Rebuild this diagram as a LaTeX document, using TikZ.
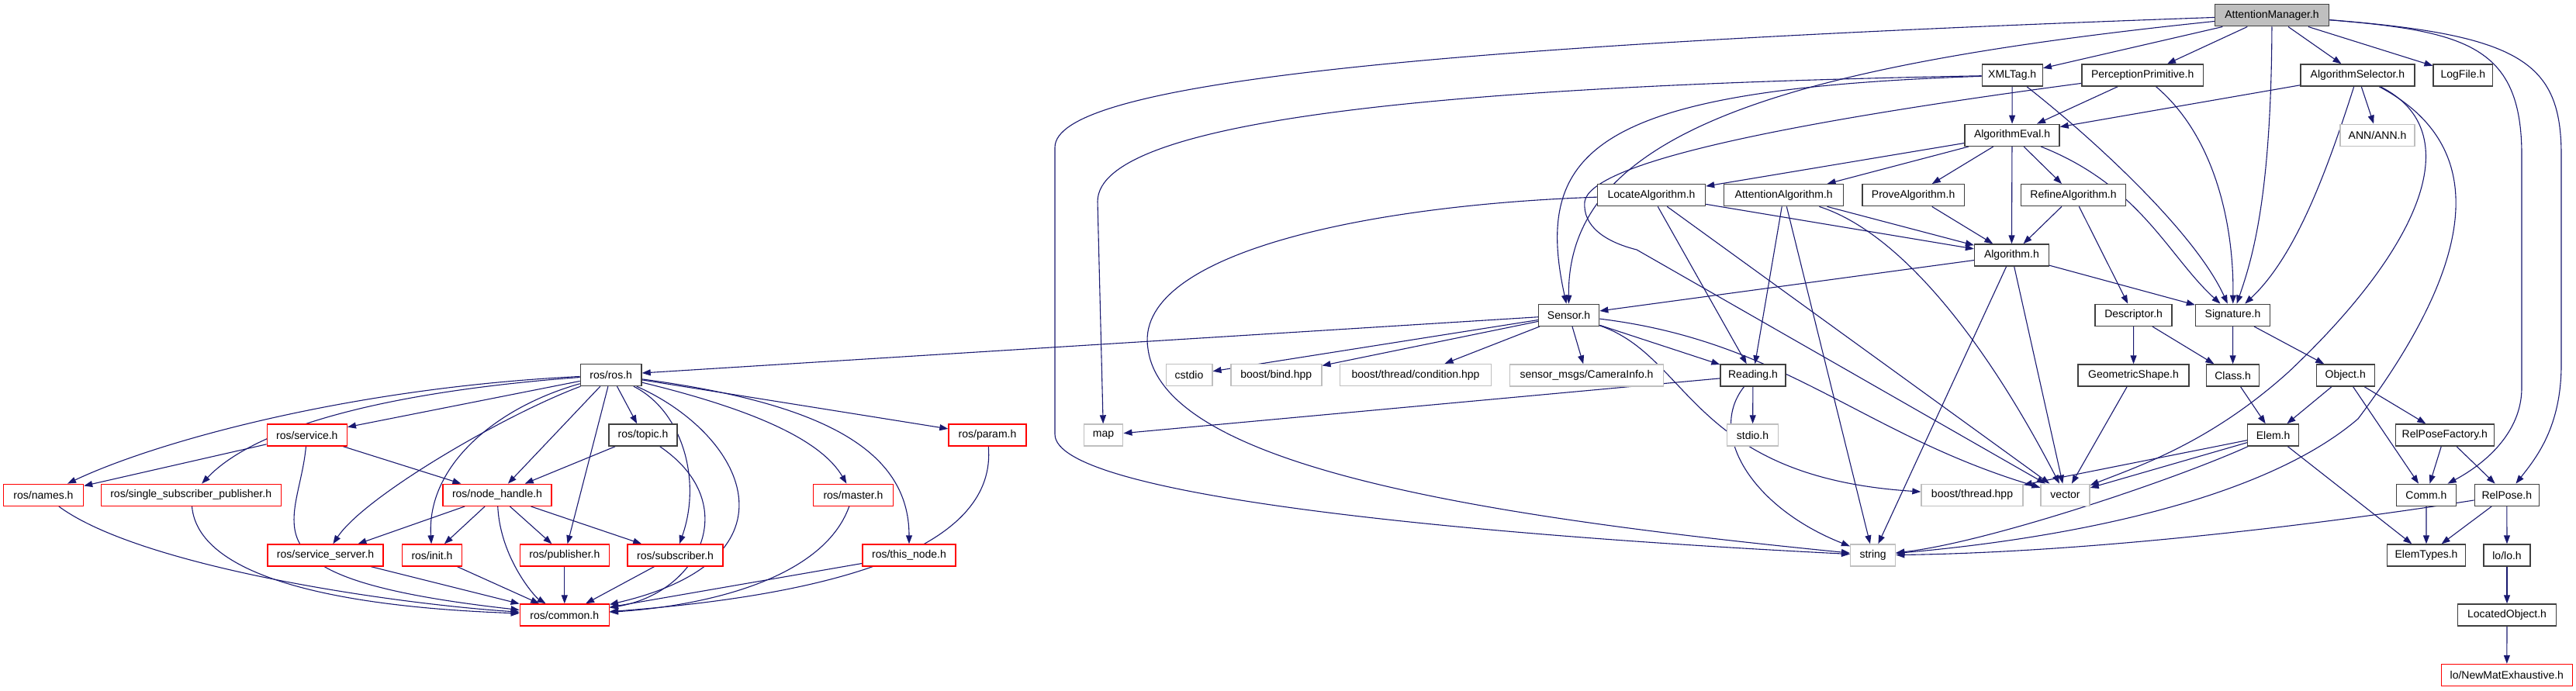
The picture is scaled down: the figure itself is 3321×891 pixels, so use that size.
\documentclass[tikz,border=0pt]{standalone}
\usepackage{fontspec}
\setmainfont{Liberation Sans}
\usetikzlibrary{arrows.meta,backgrounds}
\definecolor{edgeblue}{HTML}{191970}
\definecolor{boxgray}{HTML}{BFBFBF}
\definecolor{boxdark}{HTML}{404040}
\tikzset{
  hdr/.style={draw=boxdark, line width=1.4pt, minimum height=28pt, inner sep=0pt, fill=white,
    font=\fontsize{14}{16}\selectfont},
  sys/.style={hdr, draw=boxgray},
  ext/.style={hdr, draw=red},
  e/.style={draw=edgeblue, line width=1.1pt, -{Triangle[length=11pt,width=8pt]}},
}
\begin{document}
\begin{tikzpicture}[x=1pt,y=-1pt]
\useasboundingbox (0,0) rectangle (3321,891);
% ---------- nodes ----------
\node[hdr, fill=boxgray, minimum width=147pt] (AM) at (2929,19.8) {AttentionManager.h};
\node[hdr, minimum width=78pt] (XMLTag) at (2594.2,97) {XMLTag.h};
\node[hdr, minimum width=156.5pt] (PP) at (2762.2,97) {PerceptionPrimitive.h};
\node[hdr, minimum width=147pt] (AlgSel) at (3039.4,97) {AlgorithmSelector.h};
\node[hdr, minimum width=76.5pt] (LogFile) at (3175.4,97) {LogFile.h};
\node[hdr, minimum width=122pt] (AlgEval) at (2594,174.3) {AlgorithmEval.h};
\node[sys, minimum width=96pt] (ANN) at (3065,174.3) {ANN/ANN.h};
\node[hdr, minimum width=139pt] (LocAlg) at (2129,251.7) {LocateAlgorithm.h};
\node[hdr, minimum width=154pt] (AttAlg) at (2299.7,251.7) {AttentionAlgorithm.h};
\node[hdr, minimum width=131.5pt] (ProveAlg) at (2466.6,251.7) {ProveAlgorithm.h};
\node[hdr, minimum width=135pt] (RefineAlg) at (2673,251.7) {RefineAlgorithm.h};
\node[hdr, minimum width=95.7pt] (Algorithm) at (2593.4,329) {Algorithm.h};
\node[hdr, minimum width=78pt] (Sensor) at (2022.6,406.3) {Sensor.h};
\node[hdr, minimum width=99pt] (Descriptor) at (2750.6,406.3) {Descriptor.h};
\node[hdr, minimum width=96pt] (Signature) at (2878.5,406.3) {Signature.h};
\node[hdr, minimum width=78.6pt] (rosros) at (787.7,483.5) {ros/ros.h};
\node[sys, minimum width=59.6pt] (cstdio) at (1533,483.5) {cstdio};
\node[sys, minimum width=117pt] (bind) at (1645.3,483.5) {boost/bind.hpp};
\node[sys, minimum width=195pt] (condition) at (1825,483.5) {boost/thread/condition.hpp};
\node[sys, minimum width=198pt] (CameraInfo) at (2045.5,484) {sensor\_msgs/CameraInfo.h};
\node[hdr, minimum width=84pt] (Reading) at (2260,484) {Reading.h};
\node[hdr, minimum width=143pt] (GeomShape) at (2750.5,484) {GeometricShape.h};
\node[hdr, minimum width=68pt] (Class) at (2878.6,484) {Class.h};
\node[hdr, minimum width=75pt] (Object) at (3023.7,484) {Object.h};
\node[ext, minimum width=103pt] (service) at (395.8,561) {ros/service.h};
\node[hdr, minimum width=88pt] (topic) at (829,561) {ros/topic.h};
\node[ext, minimum width=100pt] (param) at (1273,561) {ros/param.h};
\node[sys, minimum width=50.5pt] (map) at (1422.5,561) {map};
\node[sys, minimum width=65.6pt] (stdio) at (2259.5,561) {stdio.h};
\node[hdr, minimum width=66pt] (Elem) at (2930.6,561) {Elem.h};
\node[hdr, minimum width=127pt] (RPF) at (3151.8,561) {RelPoseFactory.h};
\node[ext, minimum width=103pt] (names) at (56,638.3) {ros/names.h};
\node[ext, minimum width=232pt] (ssp) at (246.2,638.3) {ros/single\_subscriber\_publisher.h};
\node[ext, minimum width=140pt] (nh) at (641,638.3) {ros/node\_handle.h};
\node[ext, minimum width=103pt] (master) at (1100,638.3) {ros/master.h};
\node[sys, minimum width=131pt] (bthread) at (2542.5,638.3) {boost/thread.hpp};
\node[sys, minimum width=63pt] (vector) at (2662.5,638.3) {vector};
\node[hdr, minimum width=77pt] (Comm) at (3127.9,638.3) {Comm.h};
\node[hdr, minimum width=83pt] (RelPose) at (3231.8,638.3) {RelPose.h};
\node[ext, minimum width=149pt] (servsrv) at (419.6,716) {ros/service\_server.h};
\node[ext, minimum width=77.5pt] (init) at (557,716) {ros/init.h};
\node[ext, minimum width=115pt] (publisher) at (727.8,716) {ros/publisher.h};
\node[ext, minimum width=123pt] (subscriber) at (870.6,716) {ros/subscriber.h};
\node[ext, minimum width=120pt] (thisnode) at (1172,716) {ros/this\_node.h};
\node[sys, minimum width=58pt] (string) at (2414.6,716) {string};
\node[hdr, minimum width=101pt] (ElemTypes) at (3128,716) {ElemTypes.h};
\node[hdr, minimum width=60pt] (lolo) at (3232,716) {lo/lo.h};
\node[ext, minimum width=115pt] (common) at (727.8,793) {ros/common.h};
\node[hdr, minimum width=126.5pt] (LocObj) at (3232,793) {LocatedObject.h};
\node[ext, minimum width=169pt] (NewMat) at (3231.8,870.5) {lo/NewMatExhaustive.h};
\begin{pgfonlayer}{background}
% ---------- edges: AttentionManager ----------
\draw[e] (AM) -- (XMLTag);
\draw[e] (AM) -- (PP);
\draw[e] (AM) -- (AlgSel);
\draw[e] (AM) -- (LogFile);
\draw[e] (AM) .. controls (2928,250) and (2905,330) .. (Signature);
\draw[e] (AM) .. controls (2300,85) and (2020,170) .. (Sensor);
\draw[e] (AM) .. controls (1800,60) and (1360,110) .. (1360,190) -- (1360,560) .. controls (1360,640) and (1900,690) .. (string);
\draw[e] (AM) .. controls (3180,40) and (3251,60) .. (3251,200) -- (3251,500) .. controls (3251,560) and (3200,600) .. (Comm);
\draw[e] (AM) .. controls (3250,45) and (3302,80) .. (3302,200) -- (3302,470) .. controls (3302,550) and (3270,590) .. (RelPose);
% ---------- second row ----------
\draw[e] (XMLTag) -- (AlgEval);
\draw[e] (XMLTag) .. controls (2700,180) and (2830,300) .. (Signature);
\draw[e] (XMLTag) .. controls (1900,110) and (1415,150) .. (1415,260) -- (map);
\draw[e] (XMLTag) .. controls (2060,115) and (1975,190) .. (Sensor);
\draw[e] (PP) -- (AlgEval);
\draw[e] (PP) .. controls (2860,180) and (2880,300) .. (Signature);
\draw[e] (PP) .. controls (2250,165) and (2050,215) .. (2043,260) .. controls (2040,292) and (2070,312) .. (2110,322) -- (vector);
\draw[e] (AlgSel) -- (AlgEval);
\draw[e] (AlgSel) -- (ANN);
\draw[e] (AlgSel) .. controls (3000,220) and (2960,330) .. (Signature);
\draw[e] (AlgSel) .. controls (3185,170) and (3120,320) .. (2950,480) .. controls (2850,570) and (2760,600) .. (vector);
\draw[e] (AlgSel) .. controls (3215,190) and (3190,340) .. (3040,540) .. controls (2900,660) and (2600,700) .. (string);
% ---------- AlgorithmEval ----------
\draw[e] (AlgEval) -- (LocAlg);
\draw[e] (AlgEval) -- (AttAlg);
\draw[e] (AlgEval) -- (ProveAlg);
\draw[e] (AlgEval) -- (RefineAlg);
\draw[e] (AlgEval) -- (Algorithm);
\draw[e] (AlgEval) .. controls (2760,240) and (2795,330) .. (Signature);
% ---------- algorithms ----------
\draw[e] (LocAlg) -- (Algorithm);
\draw[e] (LocAlg) -- (Reading);
\draw[e] (LocAlg) -- (vector);
\draw[e] (LocAlg) .. controls (1750,265) and (1460,330) .. (1480,450) .. controls (1500,600) and (1900,665) .. (string);
\draw[e] (AttAlg) -- (Algorithm);
\draw[e] (AttAlg) -- (Reading);
\draw[e] (AttAlg) -- (string);
\draw[e] (AttAlg) .. controls (2450,300) and (2560,440) .. (vector);
\draw[e] (ProveAlg) -- (Algorithm);
\draw[e] (RefineAlg) -- (Algorithm);
\draw[e] (RefineAlg) -- (Descriptor);
\draw[e] (Algorithm) -- (Sensor);
\draw[e] (Algorithm) -- (Signature);
\draw[e] (Algorithm) -- (string);
\draw[e] (Algorithm) -- (vector);
% ---------- Sensor ----------
\draw[e] (Sensor) -- (rosros);
\draw[e] (Sensor) -- (cstdio);
\draw[e] (Sensor) -- (bind);
\draw[e] (Sensor) -- (condition);
\draw[e] (Sensor) -- (CameraInfo);
\draw[e] (Sensor) -- (Reading);
\draw[e] (Sensor) .. controls (2300,440) and (2400,560) .. (vector);
\draw[e] (Sensor) .. controls (2180,460) and (2180,615) .. (bthread);
% ---------- Reading ----------
\draw[e] (Reading) -- (map);
\draw[e] (Reading) -- (stdio);
\draw[e] (Reading) .. controls (2200,560) and (2260,655) .. (string);
% ---------- Signature / Descriptor ----------
\draw[e] (Descriptor) -- (GeomShape);
\draw[e] (Descriptor) -- (Class);
\draw[e] (Signature) -- (Class);
\draw[e] (Signature) -- (Object);
\draw[e] (GeomShape) -- (vector);
\draw[e] (Class) -- (Elem);
\draw[e] (Object) -- (Elem);
\draw[e] (Object) -- (RPF);
\draw[e] (Object) -- (Comm);
\draw[e] (Elem) -- (vector);
\draw[e] (Elem) -- (bthread);
\draw[e] (Elem) .. controls (2800,620) and (2560,700) .. (string);
\draw[e] (Elem) -- (ElemTypes);
\draw[e] (RPF) -- (Comm);
\draw[e] (RPF) -- (RelPose);
\draw[e] (Comm) -- (ElemTypes);
\draw[e] (RelPose) -- (ElemTypes);
\draw[e] (RelPose) -- (lolo);
\draw[e] (RelPose) .. controls (3000,675) and (2700,712) .. (string);
\draw[e] (lolo) -- (LocObj);
\draw[e] (LocObj) -- (NewMat);
% ---------- ros ----------
\draw[e] (rosros) .. controls (450,500) and (200,570) .. (names);
\draw[e] (rosros) .. controls (500,505) and (330,550) .. (ssp);
\draw[e] (rosros) -- (service);
\draw[e] (rosros) .. controls (650,535) and (470,640) .. (servsrv);
\draw[e] (rosros) .. controls (640,525) and (550,600) .. (init);
\draw[e] (rosros) -- (nh);
\draw[e] (rosros) -- (publisher);
\draw[e] (rosros) -- (topic);
\draw[e] (rosros) .. controls (880,530) and (905,620) .. (subscriber);
\draw[e] (rosros) .. controls (960,560) and (1040,720) .. (common);
\draw[e] (rosros) .. controls (980,530) and (1060,570) .. (master);
\draw[e] (rosros) .. controls (1060,520) and (1172,580) .. (thisnode);
\draw[e] (rosros) -- (param);
\draw[e] (service) -- (names);
\draw[e] (service) -- (nh);
\draw[e] (service) .. controls (385,680) and (300,745) .. (common);
\draw[e] (topic) -- (nh);
\draw[e] (topic) .. controls (960,650) and (900,765) .. (common);
\draw[e] (nh) -- (servsrv);
\draw[e] (nh) -- (init);
\draw[e] (nh) -- (publisher);
\draw[e] (nh) -- (subscriber);
\draw[e] (nh) .. controls (645,720) and (690,770) .. (common);
\draw[e] (names) .. controls (180,730) and (500,778) .. (common);
\draw[e] (ssp) .. controls (255,740) and (420,782) .. (common);
\draw[e] (servsrv) -- (common);
\draw[e] (init) -- (common);
\draw[e] (publisher) -- (common);
\draw[e] (subscriber) -- (common);
\draw[e] (master) .. controls (1060,750) and (900,782) .. (common);
\draw[e] (thisnode) -- (common);
\draw[e] (param) .. controls (1285,700) and (1100,765) .. (common);
\end{pgfonlayer}
\end{tikzpicture}
\end{document}
